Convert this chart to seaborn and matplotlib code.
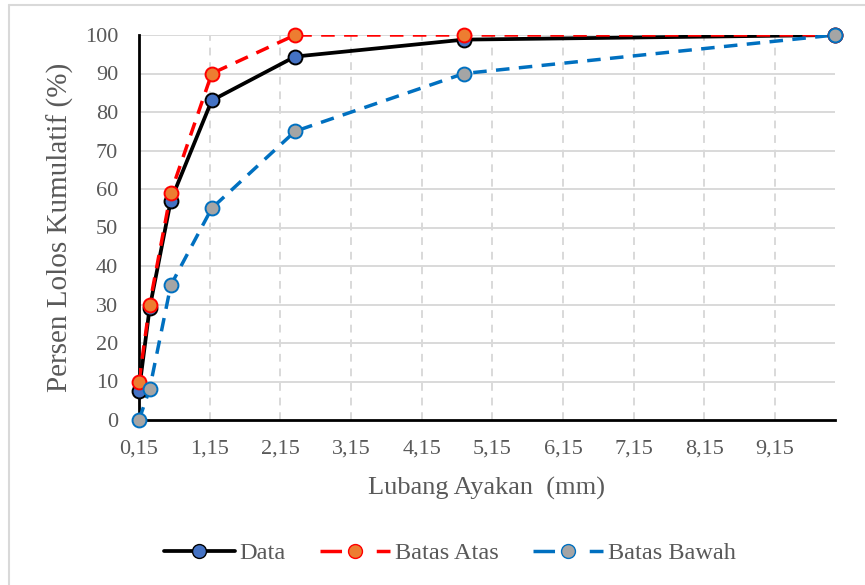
import numpy as np
import pandas as pd
import seaborn as sns
import matplotlib
matplotlib.use("Agg")
import matplotlib.pyplot as plt
from matplotlib.lines import Line2D

# Sieve openings (mm) and cumulative percent passing
ukuran_ayakan = [0.15, 0.3, 0.6, 1.18, 2.36, 4.75, 10.0]
data_lolos = [7.6, 29, 57, 83, 94.4, 98.8, 100]
batas_atas = [10, 30, 59, 90, 100, 100, 100]
batas_bawah = [0, 8, 35, 55, 75, 90, 100]
x_ticks = [0.15 + k for k in range(10)]
x_tick_labels = [f"{t:.2f}".replace(".", ",") for t in x_ticks]
y_ticks = list(range(0, 101, 10))

sns.set_theme(style="white")
plt.rcParams["font.family"] = ["Liberation Serif", "DejaVu Serif"]
TXT = "#595959"

df = pd.DataFrame({"x": ukuran_ayakan, "Data": data_lolos,
                   "Batas Atas": batas_atas, "Batas Bawah": batas_bawah})

fig = plt.figure(figsize=(8.65, 5.85), dpi=100)
W, H = 865, 585
ax = fig.add_axes([139 / W, (H - 420) / H, (835 - 139) / W, (420 - 35) / H])

# chart frame
fig.add_artist(Line2D([9 / W, 9 / W], [0, 1 - 5 / H], color="#d9d9d9", lw=1.5,
                      transform=fig.transFigure))
fig.add_artist(Line2D([9 / W, 1], [1 - 5 / H, 1 - 5 / H], color="#d9d9d9", lw=1.5,
                      transform=fig.transFigure))

ax.set_xlim(0.15, 10.0)
ax.set_ylim(0, 100)
ax.set_yticks(y_ticks)
ax.set_xticks(x_ticks)
ax.set_xticklabels(x_tick_labels)
for y in y_ticks[1:]:
    ax.axhline(y, color="#d9d9d9", lw=1.4, zorder=0)
for x in x_ticks[1:]:
    ax.axvline(x, color="#d9d9d9", lw=1.4, ls=(0, (4, 3.5)), zorder=0)

dash = (0, (3.9, 2.7))
series = [
    ("Data", "black", "-", 2.7, "#4472C4", "black"),
    ("Batas Atas", "#FF0000", dash, 2.5, "#ED7D31", "#FF0000"),
    ("Batas Bawah", "#0070C0", dash, 2.5, "#A5A5A5", "#0070C0"),
]
for i, (col, color, ls, lw, face, edge) in enumerate(series):
    sns.lineplot(data=df, x="x", y=col, ax=ax, color=color, lw=lw,
                 linestyle=ls, zorder=3 + 0.1 * i, sort=False)
for i, (col, color, ls, lw, face, edge) in enumerate(series):
    sns.scatterplot(data=df, x="x", y=col, ax=ax, s=100, color=face,
                    edgecolor=edge, linewidth=1.4, zorder=5 + 0.1 * i,
                    clip_on=False)

for s in ["top", "right"]:
    ax.spines[s].set_visible(False)
for s in ["left", "bottom"]:
    ax.spines[s].set_color("black")
    ax.spines[s].set_linewidth(2)
ax.tick_params(axis="y", length=0, labelsize=16, colors=TXT, pad=15)
ax.tick_params(axis="x", length=0, labelsize=16, colors=TXT, pad=14)
ax.set_xlabel("Lubang Ayakan  (mm)", fontsize=19, color=TXT, labelpad=13)
ax.set_ylabel("Persen Lolos Kumulatif (%)", fontsize=21, color=TXT, labelpad=8)

handle_dash = (0, (6.2, 10, 6.2, 10))
handles = [
    Line2D([], [], color=c, lw=lw, ls=("-" if ls == "-" else handle_dash),
           marker="o", markersize=10, markerfacecolor=face,
           markeredgecolor=edge)
    for (col, c, ls, lw, face, edge) in series
]
fig.legend(handles, [s[0] for s in series], loc="center",
           bbox_to_anchor=(450 / W, 1 - 553 / H), ncol=3, frameon=False,
           fontsize=17.5, labelcolor=TXT, handlelength=2.9, handletextpad=0.2,
           columnspacing=1.4)

fig.savefig("out.png", dpi=100)
